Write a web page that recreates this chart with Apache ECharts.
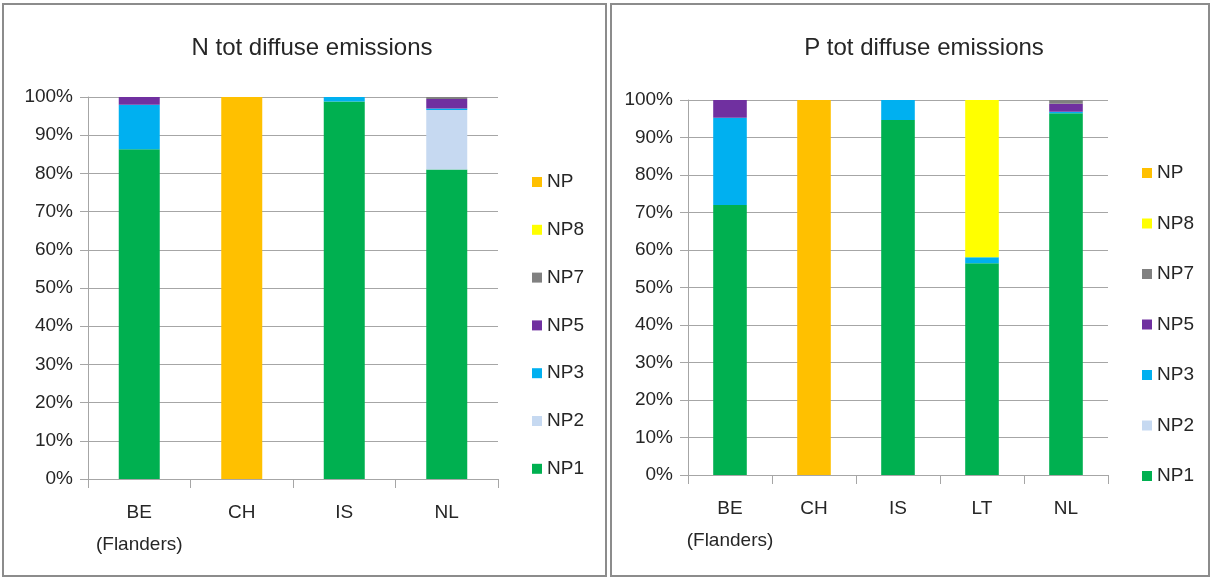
<!DOCTYPE html>
<html>
<head>
<meta charset="utf-8">
<style>
  html, body { margin: 0; padding: 0; background: #ffffff; }
  #chart { width: 1213px; height: 578px; }
</style>
<script src="https://cdn.jsdelivr.net/npm/echarts@6/dist/echarts.min.js"></script>
</head>
<body>
<div id="chart"></div>
<script>
// Shares (%) of diffuse emissions by source class, per country
var categoriesN = ['BE\n(Flanders)', 'CH', 'IS', 'NL'];
var categoriesP = ['BE\n(Flanders)', 'CH', 'IS', 'LT', 'NL'];

// N tot diffuse emissions
var nNP1 = [86.3, 0, 98.8, 81.0];
var nNP2 = [0, 0, 0, 15.6];
var nNP3 = [11.7, 0, 1.2, 0.4];
var nNP5 = [2.0, 0, 0, 2.5];
var nNP7 = [0, 0, 0, 0.5];
var nNP8 = [0, 0, 0, 0];
var nNP  = [0, 100, 0, 0];

// P tot diffuse emissions
var pNP1 = [72.0, 0, 94.7, 56.5, 96.5];
var pNP2 = [0, 0, 0, 0, 0];
var pNP3 = [23.3, 0, 5.3, 1.6, 0.4];
var pNP5 = [4.7, 0, 0, 0, 2.1];
var pNP7 = [0, 0, 0, 0, 1.0];
var pNP8 = [0, 0, 0, 41.9, 0];
var pNP  = [0, 100, 0, 0, 0];

var seriesNames = ['NP1', 'NP2', 'NP3', 'NP5', 'NP7', 'NP8', 'NP'];
var legendOrder = ['NP', 'NP8', 'NP7', 'NP5', 'NP3', 'NP2', 'NP1'];
var colors = {
  NP1: '#00B050', NP2: '#C6D9F1', NP3: '#00B0F0', NP5: '#7030A0',
  NP7: '#808080', NP8: '#FFFF00', NP: '#FFC000'
};
var nData = [nNP1, nNP2, nNP3, nNP5, nNP7, nNP8, nNP];
var pData = [pNP1, pNP2, pNP3, pNP5, pNP7, pNP8, pNP];

var FONT = "'Liberation Sans', Arial, sans-serif";
var TEXT = '#262626';
var GRID = '#a6a6a6';

function yAxis(gridIndex) {
  return {
    type: 'value', gridIndex: gridIndex, min: 0, max: 100, interval: 10,
    axisLine: { show: true, lineStyle: { color: GRID, width: 1 } },
    axisTick: { show: true, length: 8, lineStyle: { color: GRID } },
    splitLine: { show: true, lineStyle: { color: GRID, width: 1 } },
    axisLabel: { formatter: '{value}%', color: TEXT, fontFamily: FONT, fontSize: 19, margin: 15 }
  };
}
function xAxis(gridIndex, cats) {
  return {
    type: 'category', gridIndex: gridIndex, data: cats,
    axisLine: { show: true, lineStyle: { color: GRID, width: 1 } },
    axisTick: { show: true, length: 9, lineStyle: { color: GRID } },
    axisLabel: { color: TEXT, fontFamily: FONT, fontSize: 19, lineHeight: 32, margin: 18, interval: 0 }
  };
}
function legend(left, top, gap) {
  return {
    orient: 'vertical', left: left, top: top, padding: 0, itemWidth: 10, itemHeight: 10,
    itemGap: gap, icon: 'rect', data: legendOrder,
    textStyle: { color: TEXT, fontFamily: FONT, fontSize: 19, lineHeight: 20, padding: [0, 0, 0, 0] }
  };
}

var series = [];
seriesNames.forEach(function (name, i) {
  series.push({
    name: name, type: 'bar', stack: 'n', xAxisIndex: 0, yAxisIndex: 0,
    barWidth: '40%', data: nData[i], itemStyle: { color: colors[name] }
  });
});
seriesNames.forEach(function (name, i) {
  series.push({
    name: name, type: 'bar', stack: 'p', xAxisIndex: 1, yAxisIndex: 1,
    barWidth: '40%', data: pData[i], itemStyle: { color: colors[name] }
  });
});

var chart = echarts.init(document.getElementById('chart'), null, { renderer: 'canvas' });
chart.setOption({
  animation: false,
  backgroundColor: '#ffffff',
  title: [
    { text: 'N tot diffuse emissions', left: 307, top: 31, textAlign: 'center',
      textStyle: { color: TEXT, fontFamily: FONT, fontSize: 24, fontWeight: 'normal' } },
    { text: 'P tot diffuse emissions', left: 919, top: 31, textAlign: 'center',
      textStyle: { color: TEXT, fontFamily: FONT, fontSize: 24, fontWeight: 'normal' } }
  ],
  grid: [
    { left: 88, top: 97, width: 410, height: 382 },
    { left: 688, top: 100, width: 420, height: 375 }
  ],
  xAxis: [xAxis(0, categoriesN), xAxis(1, categoriesP)],
  yAxis: [yAxis(0), yAxis(1)],
  legend: [legend(532, 172, 27.8), legend(1142, 163, 30.5)],
  series: series,
  graphic: [
    { type: 'rect', shape: { x: 3, y: 4, width: 603, height: 572 },
      style: { fill: 'none', stroke: '#8c8c8c', lineWidth: 2 }, silent: true },
    { type: 'rect', shape: { x: 611, y: 4, width: 598, height: 572 },
      style: { fill: 'none', stroke: '#8c8c8c', lineWidth: 2 }, silent: true }
  ]
});
</script>
</body>
</html>
